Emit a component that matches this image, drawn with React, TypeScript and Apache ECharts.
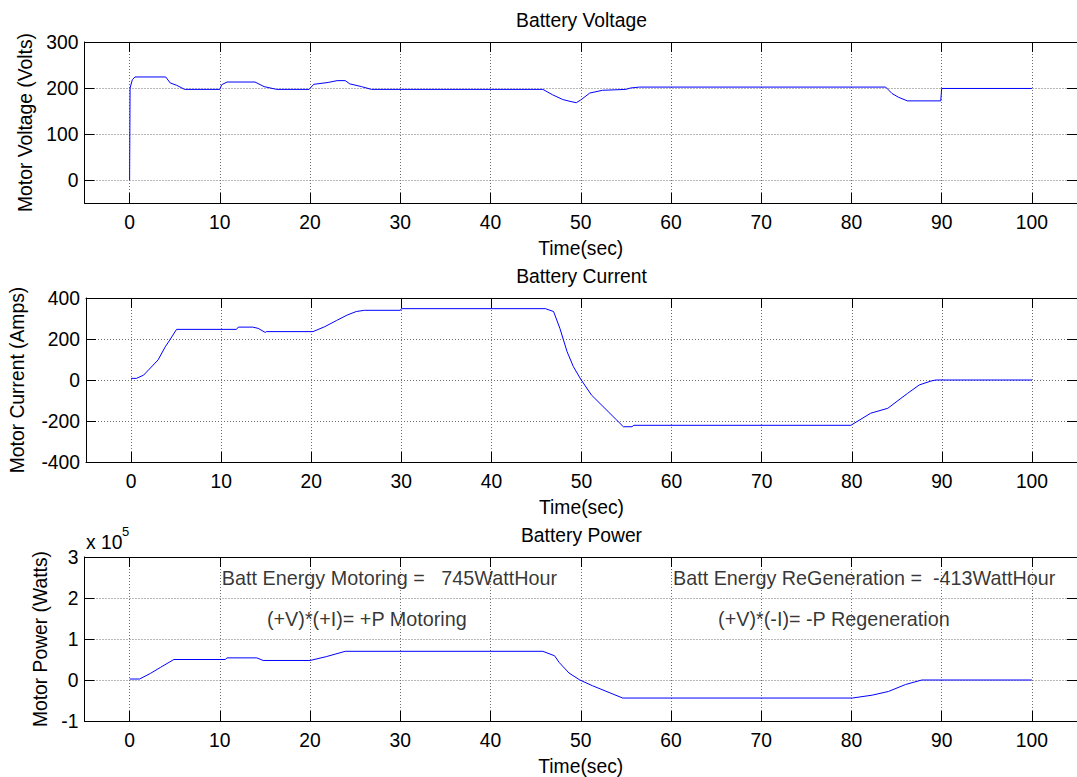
import React, { useEffect, useRef } from "react";
import * as echarts from "echarts";

// ---------- data ----------
const xTicks = [0, 10, 20, 30, 40, 50, 60, 70, 80, 90, 100];
const voltageTicks = [0, 100, 200, 300];
const currentTicks = [-400, -200, 0, 200, 400];
const powerTicks = [-100000, 0, 100000, 200000, 300000];

const voltageTime = [0, 0.05, 0.3, 0.6, 4.0, 4.5, 5.2, 6.1, 10.0, 10.2, 10.8, 13.9, 14.9, 16.3, 19.9, 20.4, 22.0, 23.0, 23.9, 24.4, 25.7, 26.8, 45.8, 46.9, 48.0, 48.8, 49.5, 50.0, 51.0, 52.4, 55.0, 55.5, 56.5, 83.8, 84.5, 85.2, 86.2, 89.9, 90.0, 100];
const voltageValues = [0, 200, 218, 224, 224, 211, 206, 197, 197, 207, 213, 213, 203, 197, 197, 208, 212, 216, 216, 209, 203, 197, 197, 185, 175, 171, 168, 174, 189, 195, 197, 200, 202, 202, 188, 180, 172, 172, 199, 199];

const currentTime = [0, 0.6, 1.4, 3.0, 3.8, 4.3, 5.05, 11.7, 11.9, 13.5, 14.1, 14.9, 15.0, 20.2, 21.5, 22.8, 24.0, 25.0, 25.9, 29.9, 30.0, 46.0, 46.9, 47.6, 48.4, 49.1, 49.9, 51.1, 54.65, 55.6, 55.8, 79.9, 82.1, 84.0, 86.2, 87.5, 88.8, 89.3, 100];
const currentValues = [8, 8, 24, 98, 162, 195, 247, 247, 258, 258, 252, 232, 236, 236, 260, 290, 317, 334, 340, 340, 348, 348, 334, 252, 138, 65, 5, -73, -228, -228, -221, -221, -162, -138, -65, -24, -5, 0, 0];

const powerTime = [0, 1.1, 2.3, 3.4, 4.9, 10.6, 10.8, 14.1, 14.8, 20.0, 21.8, 23.9, 45.8, 47.1, 47.6, 48.7, 49.9, 51.3, 54.65, 80.1, 82.3, 84.1, 86.0, 87.8, 100];
const powerValues = [2400, 2400, 16000, 30500, 50000, 50000, 54000, 54000, 47600, 47600, 57000, 70000, 70000, 59000, 43000, 17000, 0, -14000, -44000, -44000, -37000, -28000, -11000, 0, 0];

const noteTexts = [
  "Batt Energy Motoring =   745WattHour",
  "(+V)*(+I)= +P Motoring",
  "Batt Energy ReGeneration =  -413WattHour",
  "(+V)*(-I)= -P Regeneration",
];
const noteX = [10, 15, 60, 65];
const noteY = [250000, 150000, 250000, 150000];

const titles = ["Battery Voltage", "Battery Current", "Battery Power"];
const yNames = ["Motor Voltage (Volts)", "Motor Current (Amps)", "Motor Power (Watts)"];
const xName = "Time(sec)";

// ---------- styling ----------
const FONT = "'Liberation Sans', Arial, Helvetica, sans-serif";
const FS = 19.3;
const NOTE_FS = 19.8;
const LEFT = 84.5;
const WIDTH = 994;
const gridTops = [42, 298, 557];
const gridHeights = [161, 164, 164];
const yNameGaps = [50, 59, 34];
const TICK = "#000";

const zip = (a: number[], b: number[]) => a.map((t, i) => [t, b[i]]);

function makeX(gi: number, bottom: boolean) {
  return {
    type: "value",
    gridIndex: gi,
    min: -5,
    max: 105,
    position: bottom ? "bottom" : "top",
    axisLine: { show: true, onZero: false, lineStyle: { color: "#000", width: 1 } },
    axisTick: { show: true, inside: true, length: 10, customValues: xTicks, lineStyle: { color: TICK, width: 1 } },
    axisLabel: bottom
      ? { show: true, customValues: xTicks, margin: 10, color: "#000", fontSize: FS, fontFamily: FONT }
      : { show: false },
    splitLine: bottom ? { show: true, lineStyle: { color: "#707070", type: [1, 2], width: 1 } } : { show: false },
    name: bottom ? xName : "",
    nameLocation: "middle",
    nameGap: 36,
    nameTextStyle: { color: "#000", fontSize: FS, fontFamily: FONT },
  };
}

function makeY(gi: number, left: boolean, min: number, max: number, ticks: number[], fmt?: (v: number) => string) {
  return {
    type: "value",
    gridIndex: gi,
    min,
    max,
    position: left ? "left" : "right",
    axisLine: { show: true, onZero: false, lineStyle: { color: "#000", width: 1 } },
    axisTick: { show: true, inside: true, length: 10, customValues: ticks, lineStyle: { color: TICK, width: 1 } },
    axisLabel: left
      ? { show: true, customValues: ticks, margin: 6, color: "#000", fontSize: FS, fontFamily: FONT, formatter: fmt }
      : { show: false },
    splitLine: left ? { show: true, lineStyle: { color: "#707070", type: [1, 2], width: 1 } } : { show: false },
    name: left ? yNames[gi] : "",
    nameLocation: "middle",
    nameGap: yNameGaps[gi],
    nameTextStyle: { color: "#000", fontSize: FS, fontFamily: FONT },
  };
}

export default function App() {
  const ref = useRef<HTMLDivElement>(null);
  useEffect(() => {
    if (!ref.current) return;
    const chart = echarts.init(ref.current, undefined, { renderer: "svg" });
    const lineStyle = { color: "#0000ff", width: 1 };
    const option: any = {
      animation: false,
      backgroundColor: "#fff",
      grid: gridTops.map((t, i) => ({ left: LEFT, width: WIDTH, top: t, height: gridHeights[i] })),
      xAxis: [makeX(0, true), makeX(0, false), makeX(1, true), makeX(1, false), makeX(2, true), makeX(2, false)],
      yAxis: [
        makeY(0, true, -50, 300, voltageTicks),
        makeY(0, false, -50, 300, voltageTicks),
        makeY(1, true, -400, 400, currentTicks),
        makeY(1, false, -400, 400, currentTicks),
        makeY(2, true, -100000, 300000, powerTicks, (v: number) => String(v / 100000)),
        makeY(2, false, -100000, 300000, powerTicks),
      ],
      graphic: [
        ...titles.map((t, i) => ({
          type: "text",
          x: LEFT + WIDTH / 2,
          y: gridTops[i] - 22,
          style: { text: t, align: "center", verticalAlign: "middle", fontSize: FS, fontFamily: FONT, fill: "#000" },
        })),
        {
          type: "text",
          x: 86,
          y: 542,
          style: { text: "x 10", align: "left", verticalAlign: "middle", fontSize: FS, fontFamily: FONT, fill: "#000" },
        },
        {
          type: "text",
          x: 122,
          y: 531,
          style: { text: "5", align: "left", verticalAlign: "middle", fontSize: 13, fontFamily: FONT, fill: "#000" },
        },
      ],
      series: [
        { type: "line", xAxisIndex: 0, yAxisIndex: 0, data: zip(voltageTime, voltageValues), showSymbol: false, symbol: "none", lineStyle, silent: true },
        { type: "line", xAxisIndex: 2, yAxisIndex: 2, data: zip(currentTime, currentValues), showSymbol: false, symbol: "none", lineStyle, silent: true },
        { type: "line", xAxisIndex: 4, yAxisIndex: 4, data: zip(powerTime, powerValues), showSymbol: false, symbol: "none", lineStyle, silent: true },
        {
          type: "scatter",
          xAxisIndex: 4,
          yAxisIndex: 4,
          symbolSize: 0,
          silent: true,
          data: noteTexts.map((t, i) => ({ name: t, value: [noteX[i], noteY[i]] })),
          label: {
            show: true,
            position: "right",
            distance: 2,
            formatter: "{b}",
            color: "#000",
            fontSize: NOTE_FS,
            fontFamily: FONT,
          },
        },
      ],
    };
    chart.setOption(option);
    return () => chart.dispose();
  }, []);
  return <div ref={ref} style={{ position: "absolute", left: 0, top: 0, width: 1077, height: 777 }} />;
}
